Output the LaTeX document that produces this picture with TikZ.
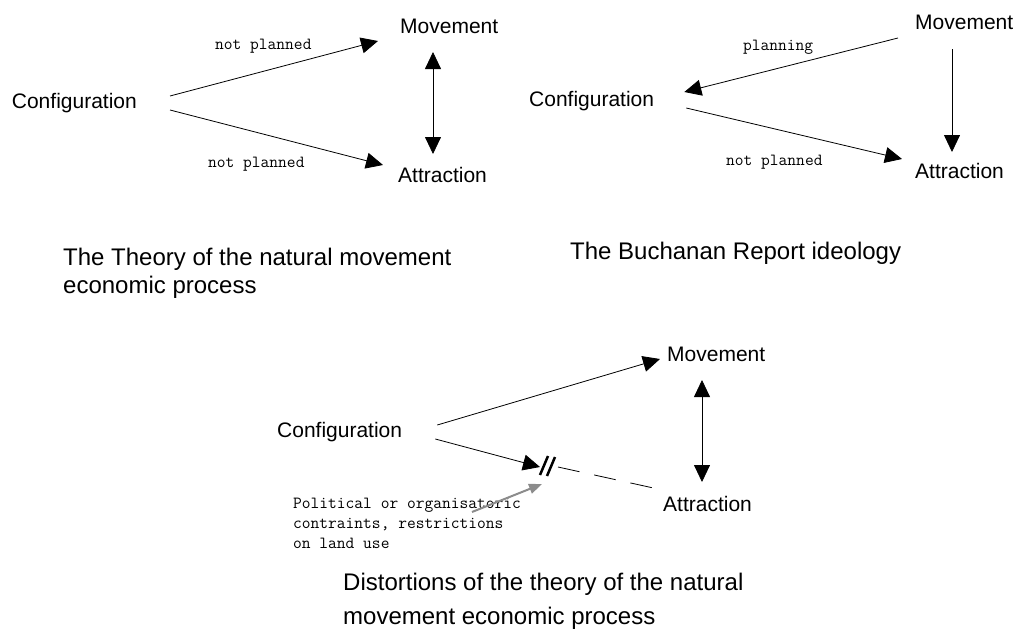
\documentclass[tikz,border=0pt]{standalone}
\usepackage{fontspec}
\setmainfont{Liberation Sans}
\usetikzlibrary{arrows.meta}
\definecolor{pointer}{RGB}{140,140,140}

\begin{document}
\begin{tikzpicture}[x=1pt,y=-1pt]
	\tikzset{word/.style={inner sep=0pt, anchor=base west, font=\fontsize{21}{25}\selectfont},
		remark/.style={inner sep=0pt, anchor=base west, align=left, font=\ttfamily\fontsize{17}{20}\selectfont},
		caption/.style={inner sep=0pt, anchor=base west, align=left, font=\fontsize{24}{28}\selectfont},
		link/.style={-{Triangle[length=17pt,width=16pt]}, line width=0.8pt},
		twoway/.style={{Triangle[length=17pt,width=16pt]}-{Triangle[length=17pt,width=16pt]}, line width=0.8pt}}
	\useasboundingbox (0,0) rectangle (1018,635);
	% natural movement
	\node[word] (conf1) at (11.7,108) {Configuration};
	\node[word] (mov1) at (400,33) {Movement};
	\node[word] (attr1) at (398,182) {Attraction};
	\node[remark] (np1a) at (215,49) {not planned};
	\node[remark] (np1b) at (208,167) {not planned};
	\draw[link] ([shift={(33,-12)}]conf1.base east) -- ([shift={(-22,8)}]mov1.base west);
	\draw[link] ([shift={(33,2)}]conf1.base east) -- ([shift={(-15,-17)}]attr1.base west);
	\draw[twoway] ([shift={(33,19)}]mov1.base west) -- ([shift={(35,-28)}]attr1.base west);
	\node[caption] (cap1) at (63,293) {The Theory of the natural movement\\economic process};
	% Buchanan
	\node[word] (mov2) at (915,29) {Movement};
	\node[word] (conf2) at (529,106) {Configuration};
	\node[word] (attr2) at (915,178) {Attraction};
	\node[remark] (plan) at (743,50) {planning};
	\node[remark] (np2) at (726,165) {not planned};
	\draw[link] ([shift={(-17,9)}]mov2.base west) -- ([shift={(30,-14)}]conf2.base east);
	\draw[link] ([shift={(32,2)}]conf2.base east) -- ([shift={(-13,-19)}]attr2.base west);
	\draw[link] ([shift={(37,20)}]mov2.base west) -- ([shift={(37,-26)}]attr2.base west);
	\node[caption] (cap2) at (570,259) {The Buchanan Report ideology};
	% distortions
	\node[word] (mov3) at (667,361) {Movement};
	\node[word] (conf3) at (277,437) {Configuration};
	\node[word] (attr3) at (663,511) {Attraction};
	\coordinate (cut) at (547,467);
	\draw[link] ([shift={(35,-12)}]conf3.base east) -- ([shift={(-7,-2)}]mov3.base west);
	\draw[link] ([shift={(33,2)}]conf3.base east) -- ([xshift=-7pt]cut);
	\draw[line width=2.5pt] ([shift={(-7,8)}]cut) -- ([shift={(1,-11)}]cut)
		([shift={(0,9)}]cut) -- ([shift={(8,-10)}]cut);
	\draw[line width=0.8pt, dash pattern=on 22pt off 15pt] ([shift={(11,0)}]cut) -- ([shift={(-5,-22)}]attr3.base west);
	\draw[twoway] ([shift={(35,19)}]mov3.base west) -- ([shift={(39,-29)}]attr3.base west);
	\node[remark] (pol) at (293,548) {Political or organisatoric\\contraints, restrictions\\on land use};
	\draw[pointer, line width=2pt, -{Triangle[length=13pt,width=10pt]}] ([shift={(179,-36)}]pol.base west) -- ([shift={(-5,17)}]cut);
	\node[caption, font=\fontsize{24}{34}\selectfont] (cap3) at (343,624) {Distortions of the theory of the natural\\movement economic process};
\end{tikzpicture}
\end{document}
